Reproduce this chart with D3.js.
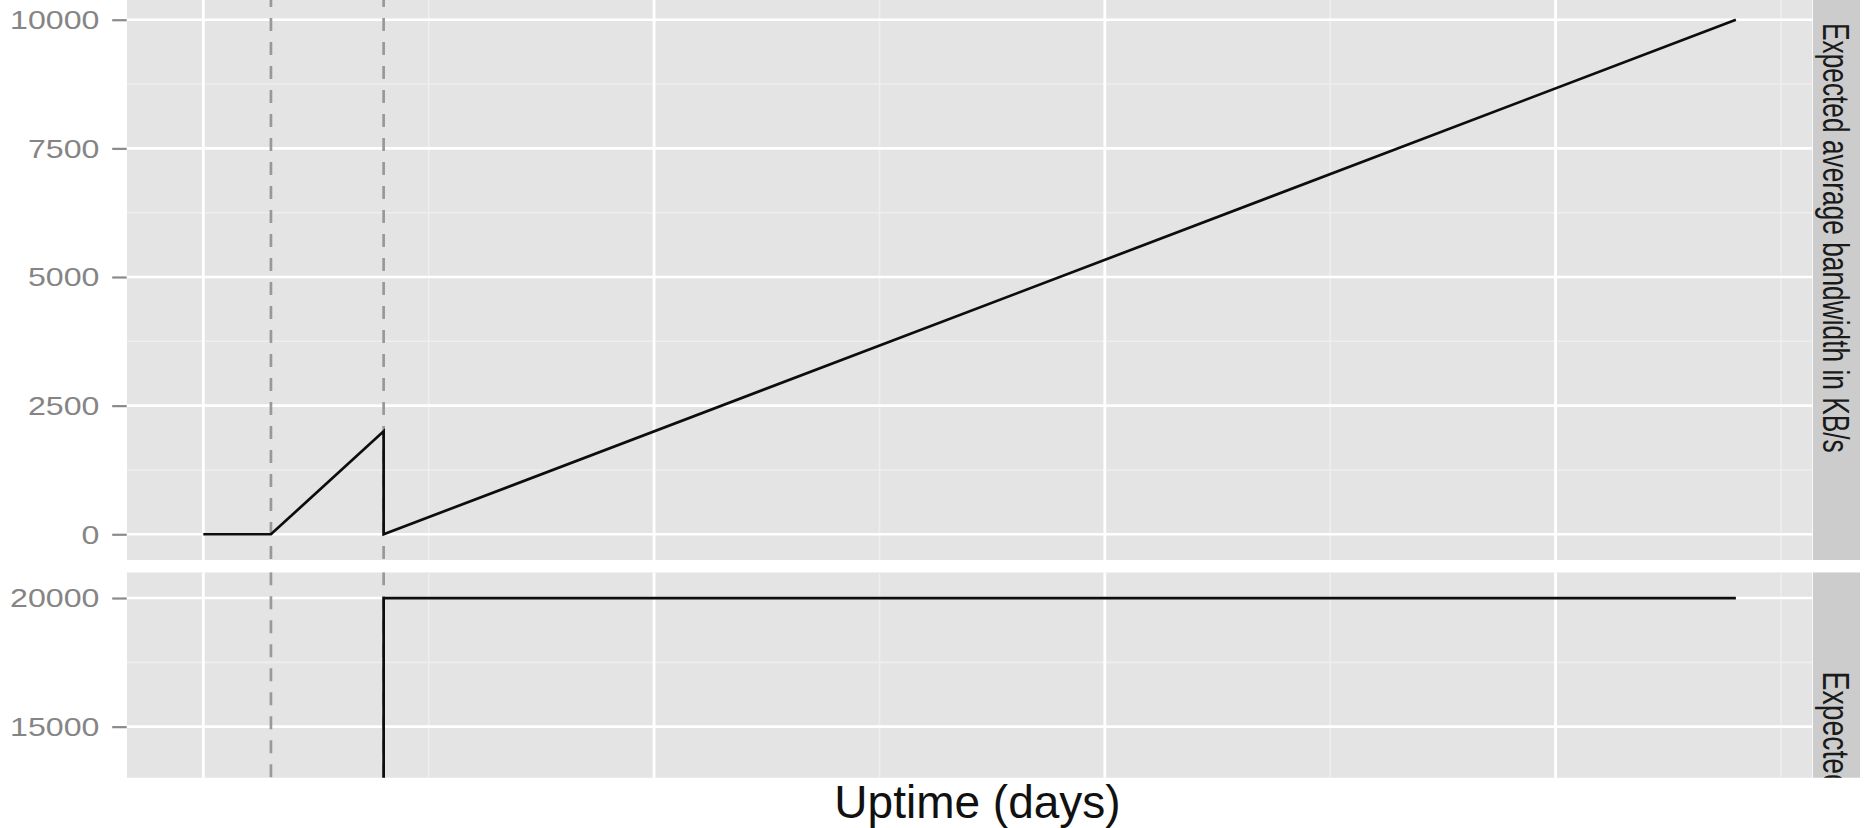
<!DOCTYPE html>
<html>
<head>
<meta charset="utf-8">
<script src="https://cdn.jsdelivr.net/npm/d3@7"></script>
<style>
  html, body { margin: 0; padding: 0; background: #ffffff; }
  svg { display: block; }
  text { font-family: "Liberation Sans", Arial, Helvetica, sans-serif; }
</style>
</head>
<body>
<svg id="chart" width="1869" height="828"></svg>
<script>
// ---------------- data ----------------
const avgDays = [0, 3, 8, 8, 68];
const avgBandwidth = [0, 0, 2000, 0, 10000];
const guardDays = [0, 8, 8, 68];
const guardBandwidth = [0, 0, 20000, 20000];
const phaseBoundaries = [3, 8];
const xMajorTicks = [0, 20, 40, 60];
const xMinorTicks = [10, 30, 50, 70];
const yTicksTop = [0, 2500, 5000, 7500, 10000];
const yMinorTop = [1250, 3750, 6250, 8750];
const yTicksBottom = [0, 5000, 10000, 15000, 20000];
const yMinorBottom = [2500, 7500, 12500, 17500];
const stripLabels = ["Expected average bandwidth in KB/s", "Expected"];
const xAxisTitle = "Uptime (days)";

// ---------------- layout ----------------
const W = 1869, H = 828;
const panelLeft = 126.7, panelRight = 1812.5;
const panelH = 566;
const topPanelY = -6;
const botPanelY = 572.3;
const cropBottom = 777.7;
const stripX = 1813, stripW = 47;
const labelStretch = 1.26;

const svg = d3.select("#chart");

const x = d3.scaleLinear().domain([-3.4, 71.4]).range([panelLeft, panelRight]);
const yTop = d3.scaleLinear().domain([-500, 10500]).range([topPanelY + panelH, topPanelY]);
const yBot = d3.scaleLinear().domain([-1000, 21000]).range([botPanelY + panelH, botPanelY]);

const defs = svg.append("defs");
defs.append("clipPath").attr("id", "clipTop").append("rect")
  .attr("x", panelLeft).attr("y", topPanelY).attr("width", panelRight - panelLeft).attr("height", panelH);
defs.append("clipPath").attr("id", "clipBot").append("rect")
  .attr("x", panelLeft).attr("y", botPanelY).attr("width", panelRight - panelLeft).attr("height", cropBottom - botPanelY);
defs.append("clipPath").attr("id", "clipStripBot").append("rect")
  .attr("x", stripX).attr("y", botPanelY).attr("width", stripW).attr("height", cropBottom - botPanelY);

function drawPanel(cfg) {
  const g = svg.append("g").attr("clip-path", `url(#${cfg.clip})`);
  g.append("rect").attr("x", panelLeft).attr("y", cfg.py)
    .attr("width", panelRight - panelLeft).attr("height", panelH).attr("fill", "#e4e4e4");
  // minor grid
  g.selectAll(".hmin").data(cfg.yMinor).join("line")
    .attr("x1", panelLeft).attr("x2", panelRight)
    .attr("y1", d => cfg.y(d)).attr("y2", d => cfg.y(d))
    .attr("stroke", "#eeeeee").attr("stroke-width", 1.6);
  g.selectAll(".vmin").data(xMinorTicks).join("line")
    .attr("x1", d => x(d)).attr("x2", d => x(d))
    .attr("y1", cfg.py).attr("y2", cfg.py + panelH)
    .attr("stroke", "#eeeeee").attr("stroke-width", 1.6);
  // major grid
  g.selectAll(".hmaj").data(cfg.yTicks).join("line")
    .attr("x1", panelLeft).attr("x2", panelRight)
    .attr("y1", d => cfg.y(d)).attr("y2", d => cfg.y(d))
    .attr("stroke", "#ffffff").attr("stroke-width", 2.6);
  g.selectAll(".vmaj").data(xMajorTicks).join("line")
    .attr("x1", d => x(d)).attr("x2", d => x(d))
    .attr("y1", cfg.py).attr("y2", cfg.py + panelH)
    .attr("stroke", "#ffffff").attr("stroke-width", 2.8);
  // phase boundaries
  g.selectAll(".phase").data(phaseBoundaries).join("line")
    .attr("x1", d => x(d)).attr("x2", d => x(d))
    .attr("y1", cfg.py).attr("y2", cfg.py + panelH)
    .attr("stroke", "#999999").attr("stroke-width", 2.7)
    .attr("stroke-dasharray", "13,11");
  // data line
  const line = d3.line().x(d => x(d[0])).y(d => cfg.y(d[1]));
  g.append("path")
    .datum(cfg.xs.map((d, i) => [d, cfg.ys[i]]))
    .attr("d", line).attr("fill", "none")
    .attr("stroke", "#0d0d0d").attr("stroke-width", 2.7)
    .attr("stroke-linejoin", "miter");

  // y axis
  const ax = svg.append("g").attr("transform", `translate(${panelLeft},0)`)
    .call(d3.axisLeft(cfg.y).tickValues(cfg.yTicks).tickSize(14.5).tickPadding(0).tickFormat(d3.format("d")));
  ax.select(".domain").remove();
  ax.selectAll(".tick").filter(d => cfg.y(d) < cfg.py || cfg.y(d) > cfg.clipBottom).remove();
  ax.selectAll(".tick line").attr("stroke", "#8a8a8a").attr("stroke-width", 2.2);
  ax.selectAll(".tick text")
    .attr("x", 0).attr("dy", null)
    .attr("dominant-baseline", "central")
    .attr("transform", `translate(-27.3,0) scale(${labelStretch},1)`)
    .attr("fill", "#858585").attr("font-size", 25.5)
    .attr("font-family", "'Liberation Sans', Arial, sans-serif");

  // strip
  const sg = svg.append("g");
  if (cfg.stripClip) sg.attr("clip-path", `url(#${cfg.stripClip})`);
  sg.append("rect").attr("x", stripX).attr("y", cfg.py).attr("width", stripW).attr("height", panelH)
    .attr("fill", "#cccccc");
  sg.append("text")
    .attr("transform", `translate(${stripX + stripW / 2 - 1},${cfg.stripTextStart}) scale(1.37,${cfg.stripLen}) rotate(90)`)
    .attr("text-anchor", "start")
    .attr("dominant-baseline", "central")
    .attr("font-size", 26.3)
    .attr("fill", "#1a1a1a")
    .text(cfg.strip);
}

drawPanel({ py: topPanelY, y: yTop, clip: "clipTop", yTicks: yTicksTop, yMinor: yMinorTop,
  xs: avgDays, ys: avgBandwidth, strip: stripLabels[0], stripTextStart: 23, stripLen: 1,
  clipBottom: topPanelY + panelH + 1 });
drawPanel({ py: botPanelY, y: yBot, clip: "clipBot", yTicks: yTicksBottom, yMinor: yMinorBottom,
  xs: guardDays, ys: guardBandwidth, strip: stripLabels[1], stripTextStart: 671.5, stripLen: 1.08,
  stripClip: "clipStripBot", clipBottom: cropBottom });

// x axis title
svg.append("text")
  .attr("x", (830 + 1125) / 2).attr("y", 818)
  .attr("text-anchor", "middle")
  .attr("font-size", 46)
  .attr("fill", "#111111")
  .text(xAxisTitle);
</script>
</body>
</html>
